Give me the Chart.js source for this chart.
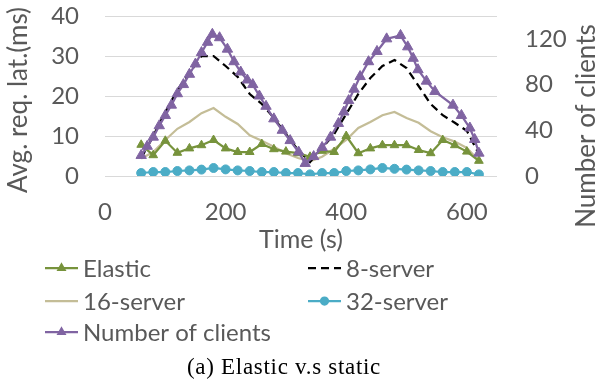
<!DOCTYPE html>
<html>
<head>
<meta charset="utf-8">
<script src="https://cdn.jsdelivr.net/npm/chart.js@4.4.1/dist/chart.umd.min.js"></script>
<style>
  html, body { margin: 0; padding: 0; background: #fff; }
  #wrap { width: 601px; height: 383px; }
</style>
</head>
<body>
<div id="wrap"><canvas id="latChart" width="601" height="383"></canvas></div>
<script>
// sample times (s) shared by the latency series
const times = [60, 80, 100, 120, 140, 160, 180, 200, 220, 240, 260, 280, 300, 320, 340,
               360, 380, 400, 420, 440, 460, 480, 500, 520, 540, 560, 580, 600, 620];
const elastic = [7.8, 5.2, 8.8, 5.8, 6.9, 7.7, 9.0, 6.9, 6.0, 6.0, 8.0, 6.7, 6.1, 5.7, 4.8,
                 6.3, 6.0, 10.0, 5.7, 6.9, 7.7, 7.7, 7.7, 6.5, 5.7, 9.0, 7.7, 6.1, 3.8];
const server8 = [4.5, 10, 16, 21.5, 25.7, 30, 30, 27.5, 24.8, 20.5, 18, 14.5, 10.5, 6.5, 3.5,
                 7, 10.5, 15.5, 20.5, 24.5, 27.5, 29, 27, 22.5, 18, 15.2, 13.3, 11.3, 5.5];
const server16 = [4.4, 6, 9, 11.8, 13.5, 15.7, 17, 14.8, 13, 10.2, 8.8, 7.3, 5.7, 4.5, 3.7,
                  4.8, 6.8, 9, 12, 13.5, 15.2, 16, 14.5, 13.3, 11.2, 9.7, 8.6, 7, 3.8];
const server32 = [0.75, 1.0, 1.0, 1.25, 1.4, 1.6, 2.0, 1.65, 1.4, 1.25, 1.0, 1.0, 0.75, 0.75, 0.4,
                  0.75, 0.75, 1.25, 1.4, 1.65, 2.0, 1.8, 1.6, 1.4, 1.25, 1.0, 1.0, 1.0, 0.4];

// number of clients has its own sample times
const clientTimes = [60, 70, 80, 90, 100, 110, 120, 130, 140, 150, 160, 170, 178, 190, 203, 214,
                     225, 236, 245, 256, 267, 280, 294, 307, 321, 332, 346, 360, 374, 387, 396,
                     404, 413, 423, 437, 451, 467, 490, 502, 511, 519, 533, 547, 577, 591, 605, 613, 620];
const clients = [18, 26, 34, 44, 53, 62, 72, 80, 89, 98, 108, 117, 124, 121, 111, 100,
                 91, 84, 80, 70, 61, 50, 40, 31, 21, 11, 17, 25, 34, 46, 56,
                 66, 76, 87, 100, 109, 120, 123, 113, 103, 93, 83, 74, 62, 53, 42, 32, 20];

const xTicks = [0, 200, 400, 600];
const latTicks = [0, 10, 20, 30, 40];
const clientTicks = [0, 40, 80, 120];

const labelFont = { family: 'Lato', size: 24 };
const textColor = '#595959';

function pairs(xs, ys) {
    return xs.map((x, i) => ({ x: x, y: ys[i] }));
}

function noPad(scale) {
    scale.paddingTop = 0;
    scale.paddingBottom = 0;
    scale.paddingLeft = 0;
    scale.paddingRight = 0;
}

// legend laid out in two columns + axis titles + caption
const legendItems = [
    { ds: 1, col: 0, row: 0 },
    { ds: 2, col: 1, row: 0 },
    { ds: 3, col: 0, row: 1 },
    { ds: 4, col: 1, row: 1 },
    { ds: 0, col: 0, row: 2 }
];
const legendCols = [45, 308];
const legendRows = [268, 301, 332];

const extrasPlugin = {
    id: 'extras',
    afterDraw(chart) {
        const ctx = chart.ctx;
        const area = chart.chartArea;
        ctx.save();
        ctx.fillStyle = textColor;
        ctx.textBaseline = 'middle';

        // axis titles
        ctx.font = '25px Lato';
        ctx.textAlign = 'center';
        ctx.fillText('Time (s)', (area.left + area.right) / 2, 240);
        ctx.font = '26px Lato';
        ctx.save();
        ctx.translate(19, 100);
        ctx.rotate(-Math.PI / 2);
        ctx.fillText('Avg. req. lat.(ms)', 0, 0);
        ctx.restore();
        ctx.save();
        ctx.translate(587, 126);
        ctx.rotate(-Math.PI / 2);
        ctx.fillText('Number of clients', 0, 0);
        ctx.restore();

        // legend
        ctx.font = '24px Lato';
        legendItems.forEach(item => {
            const ds = chart.data.datasets[item.ds];
            const x0 = legendCols[item.col];
            const y = legendRows[item.row];
            ctx.save();
            ctx.strokeStyle = ds.borderColor;
            ctx.lineWidth = ds.borderWidth;
            ctx.setLineDash(ds.borderDash || []);
            ctx.beginPath();
            ctx.moveTo(x0, y);
            ctx.lineTo(x0 + 33, y);
            ctx.stroke();
            ctx.setLineDash([]);
            if (ds.pointRadius > 0) {
                ctx.fillStyle = ds.pointBackgroundColor;
                ctx.strokeStyle = ds.borderColor;
                Chart.helpers.drawPoint(ctx, { pointStyle: ds.pointStyle, radius: 3.5, rotation: 0, borderWidth: 1 }, x0 + 16.5, y);
            }
            ctx.restore();
            ctx.textAlign = 'left';
            ctx.fillText(ds.label, x0 + 38, y + 1);
        });

        // caption
        ctx.fillStyle = '#000';
        ctx.textAlign = 'center';
        ctx.font = '23px "Liberation Serif"';
        ctx.letterSpacing = '0.7px';
        ctx.fillText('(a) Elastic v.s static', 284, 368);
        ctx.restore();
    }
};

const ctx = document.getElementById('latChart').getContext('2d');
const latChart = new Chart(ctx, {
    type: 'line',
    data: {
        datasets: [
            {
                label: 'Number of clients',
                data: pairs(clientTimes, clients),
                yAxisID: 'yR',
                borderColor: '#8064A2',
                backgroundColor: '#8064A2',
                pointBackgroundColor: '#8064A2',
                borderWidth: 2.25,
                pointStyle: 'triangle',
                pointRadius: 6,
                pointBorderWidth: 1
            },
            {
                label: 'Elastic',
                data: pairs(times, elastic),
                yAxisID: 'yL',
                borderColor: '#77933C',
                backgroundColor: '#77933C',
                pointBackgroundColor: '#77933C',
                borderWidth: 2.25,
                pointStyle: 'triangle',
                pointRadius: 5,
                pointBorderWidth: 1
            },
            {
                label: '8-server',
                data: pairs(times, server8),
                yAxisID: 'yL',
                borderColor: '#000000',
                backgroundColor: '#000000',
                borderWidth: 2.25,
                borderDash: [8, 5],
                pointRadius: 0
            },
            {
                label: '16-server',
                data: pairs(times, server16),
                yAxisID: 'yL',
                borderColor: '#C4BD97',
                backgroundColor: '#C4BD97',
                borderWidth: 2.25,
                pointRadius: 0
            },
            {
                label: '32-server',
                data: pairs(times, server32),
                yAxisID: 'yL',
                borderColor: '#4BACC6',
                backgroundColor: '#4BACC6',
                pointBackgroundColor: '#4BACC6',
                borderWidth: 2.25,
                pointStyle: 'circle',
                pointRadius: 4.5,
                pointBorderWidth: 1
            }
        ]
    },
    options: {
        responsive: false,
        animation: false,
        devicePixelRatio: 1,
        layout: { padding: { top: 16, left: 0, right: 0, bottom: 0 } },
        elements: { line: { tension: 0 } },
        plugins: {
            legend: { display: false },
            tooltip: { enabled: false }
        },
        scales: {
            x: {
                type: 'linear',
                min: 0,
                max: 650,
                afterBuildTicks: scale => { scale.ticks = xTicks.map(v => ({ value: v })); },
                afterFit: scale => { scale.height = 207; noPad(scale); },
                grid: { display: false, drawTicks: false },
                border: { display: false },
                ticks: { font: labelFont, color: textColor, padding: 22 }
            },
            yL: {
                position: 'left',
                min: 0,
                max: 40,
                afterBuildTicks: scale => { scale.ticks = latTicks.map(v => ({ value: v })); },
                afterFit: scale => { scale.width = 105; noPad(scale); },
                grid: { color: '#D9D9D9', lineWidth: 1, drawTicks: false },
                border: { display: false },
                ticks: { font: labelFont, color: textColor, padding: 26 }
            },
            yR: {
                position: 'right',
                min: 0,
                max: 140,
                afterBuildTicks: scale => { scale.ticks = clientTicks.map(v => ({ value: v })); },
                afterFit: scale => { scale.width = 104; noPad(scale); },
                grid: { display: false, drawTicks: false },
                border: { display: false },
                ticks: { font: labelFont, color: textColor, padding: 28 }
            }
        }
    },
    plugins: [extrasPlugin]
});
</script>
</body>
</html>
